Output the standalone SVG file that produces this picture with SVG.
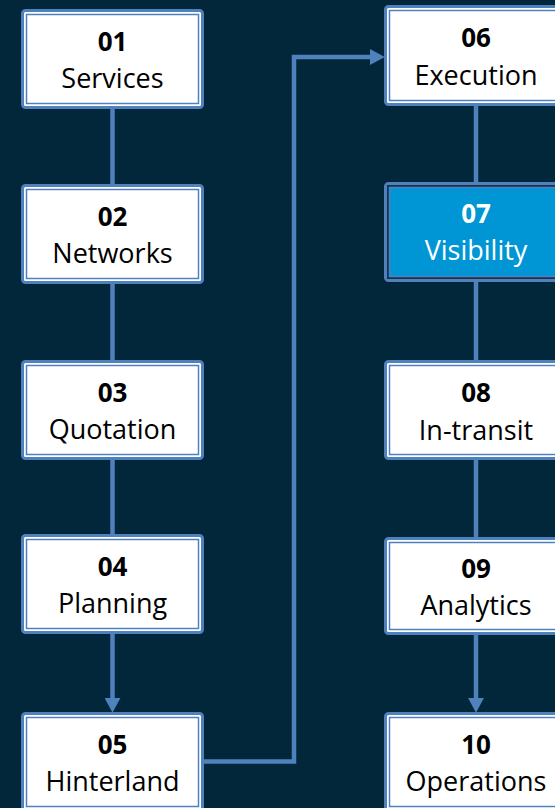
<svg xmlns="http://www.w3.org/2000/svg" width="555" height="808" viewBox="0 0 555 808">
  <style>
    .bg { fill: #02263A; }
    .outer { fill: #FFFFFF; stroke: #4F81BD; stroke-width: 3; }
    .inner { fill: none; stroke: #4F81BD; stroke-width: 1.5; }
    .hl .outer { fill: #0096D6; }
    .hl .gap { fill: none; stroke: #17324C; stroke-width: 2; }
    .num { font-family: "Open Sans", "Liberation Sans", sans-serif; font-weight: bold; font-size: 26px; fill: #000000; text-anchor: middle; }
    .lbl { font-family: "Open Sans", "Liberation Sans", sans-serif; font-size: 27px; fill: #000000; text-anchor: middle; }
    .hl .num, .hl .lbl { fill: #FFFFFF; }
    .conn { fill: none; stroke: #4F81BD; stroke-width: 4.5; }
  </style>
  <defs>
    <marker id="arrow" markerUnits="userSpaceOnUse" markerWidth="15" markerHeight="16" viewBox="0 0 14 15" refX="2" refY="7.5" orient="auto">
      <path d="M0,0 L14,7.5 L0,15 z" fill="#4F81BD"/>
    </marker>
  </defs>
  <rect class="bg" x="0" y="0" width="555" height="808"/>

  <g id="connectors">
    <path class="conn" d="M112.5,109 V184"/>
    <path class="conn" d="M112.5,284 V360"/>
    <path class="conn" d="M112.5,460 V534"/>
    <path class="conn" d="M112.5,634 V700" marker-end="url(#arrow)"/>
    <path class="conn" d="M204,761.5 H294 V57 H372" marker-end="url(#arrow)"/>
    <path class="conn" d="M476,106 V182"/>
    <path class="conn" d="M476,282 V360"/>
    <path class="conn" d="M476,460 V537"/>
    <path class="conn" d="M476,635 V700" marker-end="url(#arrow)"/>
  </g>

  <g id="node01">
    <rect class="outer" x="22.5" y="10.5" width="180" height="97" rx="3"/>
    <rect class="inner" x="26.5" y="14.5" width="172" height="89"/>
    <text class="num" x="112.5" y="51">01</text>
    <text class="lbl" x="112.5" y="88">Services</text>
  </g>
  <g id="node02">
    <rect class="outer" x="22.5" y="185.5" width="180" height="97" rx="3"/>
    <rect class="inner" x="26.5" y="189.5" width="172" height="89"/>
    <text class="num" x="112.5" y="226">02</text>
    <text class="lbl" x="112.5" y="263">Networks</text>
  </g>
  <g id="node03">
    <rect class="outer" x="22.5" y="361.5" width="180" height="97" rx="3"/>
    <rect class="inner" x="26.5" y="365.5" width="172" height="89"/>
    <text class="num" x="112.5" y="402">03</text>
    <text class="lbl" x="112.5" y="439">Quotation</text>
  </g>
  <g id="node04">
    <rect class="outer" x="22.5" y="535.5" width="180" height="97" rx="3"/>
    <rect class="inner" x="26.5" y="539.5" width="172" height="89"/>
    <text class="num" x="112.5" y="576">04</text>
    <text class="lbl" x="112.5" y="613">Planning</text>
  </g>
  <g id="node05">
    <rect class="outer" x="22.5" y="713.5" width="180" height="97" rx="3"/>
    <rect class="inner" x="26.5" y="717.5" width="172" height="89"/>
    <text class="num" x="112.5" y="754">05</text>
    <text class="lbl" x="112.5" y="791">Hinterland</text>
  </g>

  <g id="node06">
    <rect class="outer" x="385.5" y="6.5" width="181" height="98" rx="3"/>
    <rect class="inner" x="389.5" y="10.5" width="173" height="90"/>
    <text class="num" x="476" y="47">06</text>
    <text class="lbl" x="476" y="85">Execution</text>
  </g>
  <g id="node07" class="hl">
    <rect class="outer" x="385.5" y="183.5" width="181" height="97" rx="3"/>
    <rect class="gap" x="388" y="186" width="176" height="92"/>
    <rect class="inner" x="389.5" y="187.5" width="173" height="89"/>
    <text class="num" x="476" y="223">07</text>
    <text class="lbl" x="476" y="260">Visibility</text>
  </g>
  <g id="node08">
    <rect class="outer" x="385.5" y="361.5" width="181" height="97" rx="3"/>
    <rect class="inner" x="389.5" y="365.5" width="173" height="89"/>
    <text class="num" x="476" y="402">08</text>
    <text class="lbl" x="476" y="440">In-transit</text>
  </g>
  <g id="node09">
    <rect class="outer" x="385.5" y="538.5" width="181" height="95" rx="3"/>
    <rect class="inner" x="389.5" y="542.5" width="173" height="87"/>
    <text class="num" x="476" y="578">09</text>
    <text class="lbl" x="476" y="615">Analytics</text>
  </g>
  <g id="node10">
    <rect class="outer" x="385.5" y="713.5" width="181" height="97" rx="3"/>
    <rect class="inner" x="389.5" y="717.5" width="173" height="89"/>
    <text class="num" x="476" y="754">10</text>
    <text class="lbl" x="476" y="791">Operations</text>
  </g>
</svg>
